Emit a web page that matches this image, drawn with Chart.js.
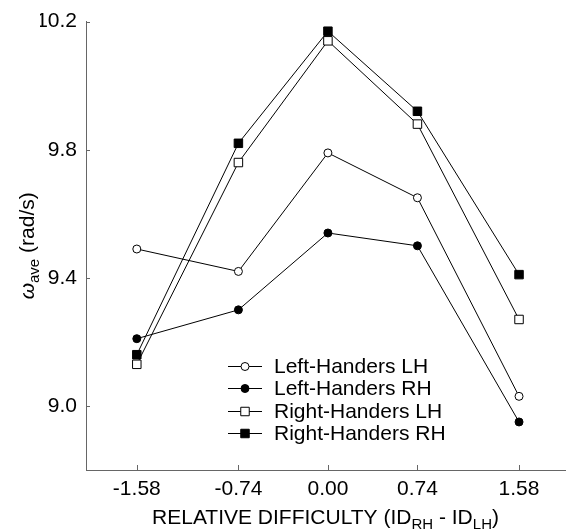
<!DOCTYPE html>
<html>
<head>
<meta charset="utf-8">
<script src="https://cdn.jsdelivr.net/npm/chart.js@4/dist/chart.umd.min.js"></script>
<style>
  html, body { margin: 0; padding: 0; background: #fff; overflow: hidden; }
</style>
</head>
<body>
<canvas id="chart" width="572" height="530"></canvas>
<script>
// relative difficulty values (x) and tick labels
const difficulty = [-1.58, -0.74, 0.00, 0.74, 1.58];
const yTickValues = [9.0, 9.4, 9.8, 10.2];

// mean angular velocity (rad/s) per group
const leftHandersLH = [9.49, 9.42, 9.79, 9.65, 9.03];
const leftHandersRH = [9.21, 9.30, 9.54, 9.50, 8.95];
const rightHandersLH = [9.13, 9.76, 10.14, 9.88, 9.27];
const rightHandersRH = [9.16, 9.82, 10.17, 9.92, 9.41];

const seriesNames = ["Left-Handers LH", "Left-Handers RH", "Right-Handers LH", "Right-Handers RH"];

const FONT = "'Liberation Sans', Arial, sans-serif";
const AXIS_COLOR = "#666";

function toPoints(values) {
  return values.map((v, i) => ({ x: difficulty[i], y: v }));
}

function makeDataset(label, values, shape, filled) {
  return {
    label,
    data: toPoints(values),
    borderColor: "#000",
    borderWidth: 1,
    pointStyle: shape,
    pointRadius: shape === "circle" ? 4 : 6,
    pointBorderWidth: 1,
    pointBorderColor: "#000",
    pointBackgroundColor: filled ? "#000" : "#fff",
    tension: 0,
    fill: false
  };
}

/**
 * Draw one marker like the chart does (for the legend).
 */
function drawMarker(ctx, ds, x, y) {
  ctx.save();
  ctx.fillStyle = ds.pointBackgroundColor;
  ctx.strokeStyle = "#000";
  ctx.lineWidth = 1;
  ctx.beginPath();
  if (ds.pointStyle === "circle") {
    ctx.arc(x, y, ds.pointRadius, 0, Math.PI * 2);
  } else {
    const s = ds.pointRadius * Math.SQRT2;
    ctx.rect(x - s / 2, y - s / 2, s, s);
  }
  ctx.fill();
  ctx.stroke();
  ctx.restore();
}

/**
 * Draw text made of parts, some of them subscripts.
 */
function drawRichText(ctx, parts, cx, baseline) {
  const widths = parts.map((p) => {
    ctx.font = p.font;
    return ctx.measureText(p.text).width;
  });
  const total = widths.reduce((a, b) => a + b, 0);
  let x = cx - total / 2;
  ctx.textAlign = "left";
  ctx.textBaseline = "alphabetic";
  parts.forEach((p, i) => {
    ctx.font = p.font;
    ctx.fillText(p.text, x, baseline + (p.dy || 0));
    x += widths[i];
  });
}

const extrasPlugin = {
  id: "extras",
  afterDraw(chart) {
    const ctx = chart.ctx;
    const area = chart.chartArea;
    const xs = chart.scales.x;
    const ys = chart.scales.y;

    // inward tick marks
    ctx.save();
    ctx.strokeStyle = AXIS_COLOR;
    ctx.lineWidth = 1;
    ctx.beginPath();
    yTickValues.forEach((v) => {
      const py = Math.round(ys.getPixelForValue(v)) + 0.5;
      ctx.moveTo(area.left, py);
      ctx.lineTo(area.left + 4, py);
    });
    difficulty.forEach((v) => {
      const px = Math.round(xs.getPixelForValue(v)) + 0.5;
      ctx.moveTo(px, area.bottom);
      ctx.lineTo(px, area.bottom - 5);
    });
    ctx.stroke();
    ctx.restore();

    // legend inside the plot
    const rowY = [366, 388, 411, 433];
    ctx.save();
    chart.data.datasets.forEach((ds, i) => {
      const y = rowY[i];
      ctx.strokeStyle = "#000";
      ctx.lineWidth = 1;
      ctx.beginPath();
      ctx.moveTo(228, y + 0.5);
      ctx.lineTo(262, y + 0.5);
      ctx.stroke();
      drawMarker(ctx, ds, 245, y + 0.5);
      ctx.fillStyle = "#000";
      ctx.font = "21px " + FONT;
      ctx.textAlign = "left";
      ctx.textBaseline = "middle";
      ctx.fillText(seriesNames[i], 274, y + 1);
    });
    ctx.restore();

    // x axis title with subscripts
    ctx.save();
    ctx.fillStyle = "#000";
    const big = "21px " + FONT;
    const small = "15px " + FONT;
    drawRichText(ctx, [
      { text: "RELATIVE DIFFICULTY (ID", font: big },
      { text: "RH", font: small, dy: 5 },
      { text: " - ID", font: big },
      { text: "LH", font: small, dy: 5 },
      { text: ")", font: big }
    ], (area.left + area.right) / 2, 524);
    ctx.restore();

    // y axis title, rotated
    ctx.save();
    ctx.fillStyle = "#000";
    ctx.translate(34, (area.top + area.bottom) / 2);
    ctx.rotate(-Math.PI / 2);
    drawRichText(ctx, [
      { text: "\u03c9", font: "italic 21px " + FONT },
      { text: "ave", font: small, dy: 5 },
      { text: " (rad/s)", font: big }
    ], 0, 0);
    ctx.restore();
  }
};

new Chart(document.getElementById("chart"), {
  type: "line",
  data: {
    datasets: [
      makeDataset(seriesNames[0], leftHandersLH, "circle", false),
      makeDataset(seriesNames[1], leftHandersRH, "circle", true),
      makeDataset(seriesNames[2], rightHandersLH, "rect", false),
      makeDataset(seriesNames[3], rightHandersRH, "rect", true)
    ]
  },
  options: {
    responsive: false,
    devicePixelRatio: 1,
    animation: false,
    layout: { padding: { left: 40, right: 0, top: 10, bottom: 20 } },
    plugins: {
      legend: { display: false },
      tooltip: { enabled: false }
    },
    scales: {
      x: {
        type: "linear",
        min: -2.0,
        max: 1.96,
        afterBuildTicks: (scale) => {
          scale.ticks = difficulty.map((v) => ({ value: v }));
        },
        afterFit: (scale) => {
          scale.height = 40;
        },
        ticks: {
          color: "#000",
          font: { family: FONT, size: 21 },
          padding: 7,
          maxRotation: 0,
          autoSkip: false,
          callback: (v) => Number(v).toFixed(2)
        },
        grid: { display: false, drawTicks: false },
        border: { display: true, color: AXIS_COLOR, width: 1 }
      },
      y: {
        type: "linear",
        min: 8.8,
        max: 10.2,
        afterBuildTicks: (scale) => {
          scale.ticks = yTickValues.map((v) => ({ value: v }));
        },
        afterFit: (scale) => {
          scale.width = 46;
        },
        ticks: {
          color: "#000",
          font: { family: FONT, size: 21 },
          padding: 9,
          autoSkip: false,
          callback: (v) => Number(v).toFixed(1)
        },
        grid: { display: false, drawTicks: false },
        border: { display: true, color: AXIS_COLOR, width: 1 }
      }
    }
  },
  plugins: [extrasPlugin]
});
</script>
</body>
</html>
